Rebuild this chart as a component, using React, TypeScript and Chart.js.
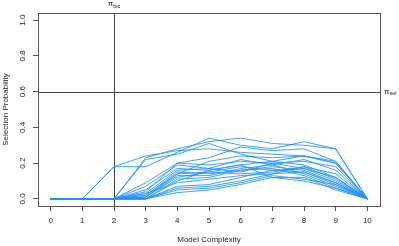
import React, { useEffect, useRef } from "react";
import { Chart, registerables } from "chart.js";

Chart.register(...registerables);

const complexity = [0, 1, 2, 3, 4, 5, 6, 7, 8, 9, 10];
const xTicks = [0, 1, 2, 3, 4, 5, 6, 7, 8, 9, 10];
const yTicks = [0, 0.2, 0.4, 0.6, 0.8, 1.0];
const piSel = 0.6;
const piBic = 2;

const s01 = [0, 0, 0.18, 0.24, 0.27, 0.28, 0.26, 0.25, 0.24, 0.20, 0];
const s02 = [0, 0, 0.18, 0.18, 0.26, 0.34, 0.30, 0.28, 0.32, 0.28, 0];
const s03 = [0, 0, 0, 0.23, 0.28, 0.32, 0.34, 0.31, 0.30, 0.28, 0];
const s04 = [0, 0, 0, 0.22, 0.25, 0.31, 0.25, 0.21, 0.24, 0.20, 0];
const s05 = [0, 0, 0, 0.09, 0.20, 0.23, 0.29, 0.27, 0.28, 0.21, 0];
const s06 = [0, 0, 0, 0.07, 0.19, 0.17, 0.22, 0.19, 0.22, 0.16, 0];
const s07 = [0, 0, 0, 0.05, 0.17, 0.16, 0.19, 0.21, 0.19, 0.12, 0];
const s08 = [0, 0, 0, 0.03, 0.16, 0.17, 0.15, 0.20, 0.17, 0.10, 0];
const s09 = [0, 0, 0, 0.02, 0.15, 0.14, 0.16, 0.18, 0.16, 0.09, 0];
const s10 = [0, 0, 0, 0.02, 0.14, 0.15, 0.18, 0.16, 0.15, 0.08, 0];
const s11 = [0, 0, 0, 0.01, 0.13, 0.13, 0.17, 0.19, 0.14, 0.07, 0];
const s12 = [0, 0, 0, 0.01, 0.12, 0.15, 0.14, 0.15, 0.18, 0.11, 0];
const s13 = [0, 0, 0, 0.0, 0.11, 0.12, 0.16, 0.17, 0.13, 0.06, 0];
const s14 = [0, 0, 0, 0.0, 0.10, 0.16, 0.19, 0.12, 0.12, 0.05, 0];
const s15 = [0, 0, 0, 0.03, 0.09, 0.11, 0.13, 0.14, 0.15, 0.09, 0];
const s16 = [0, 0, 0, 0.0, 0.07, 0.08, 0.12, 0.16, 0.17, 0.12, 0];
const s17 = [0, 0, 0, 0.0, 0.06, 0.07, 0.10, 0.14, 0.18, 0.14, 0];
const s18 = [0, 0, 0, 0.0, 0.05, 0.06, 0.09, 0.13, 0.11, 0.08, 0];
const s19 = [0, 0, 0, 0.0, 0.035, 0.05, 0.08, 0.12, 0.10, 0.06, 0];
const s20 = [0, 0, 0, 0.04, 0.20, 0.19, 0.21, 0.20, 0.21, 0.18, 0];
const s21 = [0, 0, 0, 0.01, 0.14, 0.21, 0.24, 0.23, 0.24, 0.21, 0];

const seriesList = [s01, s02, s03, s04, s05, s06, s07, s08, s09, s10, s11, s12, s13, s14, s15, s16, s17, s18, s19, s20, s21];

const FONT = "'Liberation Sans', Arial, Helvetica, sans-serif";
const TEXT = "#222";
const AXIS = "#555";

const decorPlugin = {
  id: "decor",
  beforeDatasetsDraw(chart: any) {
    const { ctx, chartArea: a, scales } = chart;
    const x = scales.x, y = scales.y;
    ctx.save();
    ctx.strokeStyle = "#444";
    ctx.lineWidth = 1;
    const yy = Math.round(y.getPixelForValue(piSel)) + 0.5;
    ctx.beginPath();
    ctx.moveTo(a.left, yy);
    ctx.lineTo(a.right, yy);
    const xx = Math.round(x.getPixelForValue(piBic)) + 0.5;
    ctx.moveTo(xx, a.top);
    ctx.lineTo(xx, a.bottom);
    ctx.stroke();
    ctx.restore();
  },
  afterDraw(chart: any) {
    const { ctx, chartArea: a, scales } = chart;
    const x = scales.x, y = scales.y;
    ctx.save();
    ctx.strokeStyle = AXIS;
    ctx.lineWidth = 1;
    ctx.strokeRect(Math.round(a.left) + 0.5, Math.round(a.top) + 0.5, Math.round(a.right - a.left), Math.round(a.bottom - a.top));

    ctx.fillStyle = TEXT;
    ctx.font = `8px ${FONT}`;
    ctx.textAlign = "center";
    ctx.textBaseline = "middle";
    // rotated y tick labels
    yTicks.forEach((v) => {
      ctx.save();
      ctx.translate(23, y.getPixelForValue(v));
      ctx.rotate(-Math.PI / 2);
      ctx.fillText(v.toFixed(1), 0, 0);
      ctx.restore();
    });
    // y title
    ctx.save();
    ctx.translate(6, (a.top + a.bottom) / 2);
    ctx.rotate(-Math.PI / 2);
    ctx.fillText("Selection Probability", 0, 0);
    ctx.restore();
    // x title
    ctx.fillText("Model Complexity", (a.left + a.right) / 2, 240);

    // pi labels
    const drawPi = (px: number, py: number, sub: string, align: string) => {
      ctx.font = `8px ${FONT}`;
      const w1 = ctx.measureText("π").width;
      ctx.font = `5.5px ${FONT}`;
      const w2 = ctx.measureText(sub).width;
      let start = px;
      if (align === "center") start = px - (w1 + w2) / 2;
      ctx.textAlign = "left";
      ctx.font = `8px ${FONT}`;
      ctx.fillText("π", start, py);
      ctx.font = `5.5px ${FONT}`;
      ctx.fillText(sub, start + w1, py + 2);
    };
    drawPi(x.getPixelForValue(piBic), 4, "bic", "center");
    drawPi(a.right + 4, y.getPixelForValue(piSel), "sel", "left");
    ctx.restore();
  },
};

export default function App() {
  const ref = useRef<HTMLCanvasElement>(null);
  useEffect(() => {
    if (!ref.current) return;
    const datasets = seriesList.map((s, i) => ({
      label: `run ${i + 1}`,
      data: complexity.map((c, j) => ({ x: c, y: s[j] })),
      borderColor: "rgba(30,144,255,0.85)",
      backgroundColor: "rgba(30,144,255,0.85)",
      borderWidth: 1,
      pointRadius: 0,
      tension: 0,
      fill: false,
    }));
    const chart = new Chart(ref.current, {
      type: "line",
      data: { datasets },
      options: {
        animation: false,
        responsive: false,
        maintainAspectRatio: false,
        layout: { padding: { top: 13, right: 19, left: 0, bottom: 0 } },
        plugins: { legend: { display: false }, tooltip: { enabled: false } },
        scales: {
          x: {
            type: "linear",
            min: -0.4,
            max: 10.4,
            afterFit: (s: any) => { s.height = 40; },
            afterBuildTicks: (s: any) => { s.ticks = xTicks.map((v) => ({ value: v })); },
            ticks: {
              includeBounds: false,
              stepSize: 1,
              color: TEXT,
              font: { size: 8, family: FONT },
              padding: 5,
              maxRotation: 0,
              minRotation: 0,
              autoSkip: false,
            },
            grid: { display: true, drawOnChartArea: false, drawTicks: true, tickLength: 5, color: AXIS },
            border: { display: false },
          },
          y: {
            type: "linear",
            min: -0.04,
            max: 1.04,
            afterFit: (s: any) => { s.width = 38; },
            afterBuildTicks: (s: any) => { s.ticks = yTicks.map((v) => ({ value: v })); },
            ticks: { includeBounds: false, stepSize: 0.2, display: false },
            grid: { display: true, drawOnChartArea: false, drawTicks: true, tickLength: 5, color: AXIS },
            border: { display: false },
          },
        },
      },
      plugins: [decorPlugin],
    });
    return () => chart.destroy();
  }, []);
  return (
    <div style={{ position: "absolute", left: 0, top: 0, width: 399, height: 246, background: "#fff" }}>
      <canvas ref={ref} width={399} height={246} style={{ width: 399, height: 246 }} />
    </div>
  );
}
